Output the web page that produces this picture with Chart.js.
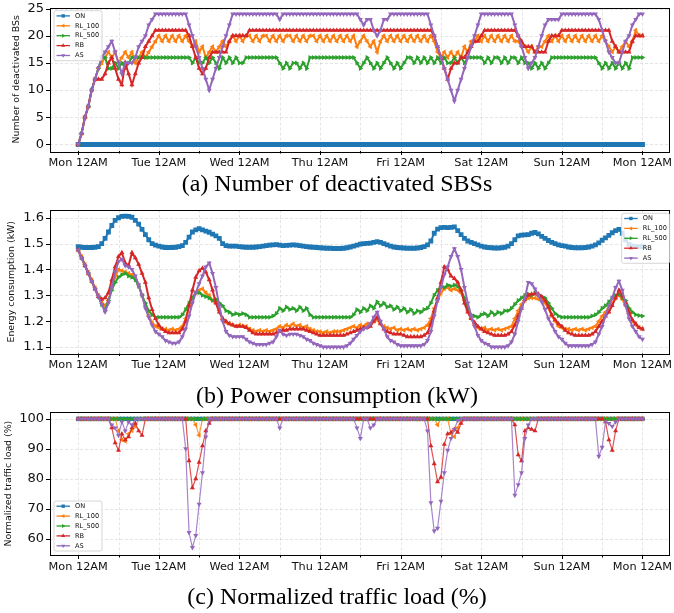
<!DOCTYPE html>
<html>
<head>
<meta charset="utf-8">
<script src="https://cdn.jsdelivr.net/npm/chart.js@4.4.1/dist/chart.umd.min.js"></script>
<style>
  html, body { margin: 0; padding: 0; background: #fff; overflow: hidden; }
  #page { position: relative; width: 674px; height: 613px; }
  canvas { position: absolute; left: 0; }
  .cap { position: absolute; left: 0; width: 674px; text-align: center; color: #000;
         font-family: "Liberation Serif", "Times New Roman", serif; font-size: 24px; line-height: 28px; }
</style>
</head>
<body>
<div id="page">
  <canvas id="deact"></canvas>
  <div class="cap" style="top:169px">(a) Number of deactivated SBSs</div>
  <canvas id="energy"></canvas>
  <div class="cap" style="top:381px">(b) Power consumption (kW)</div>
  <canvas id="load"></canvas>
  <div class="cap" style="top:582px">(c) Normalized traffic load (%)</div>
</div>
<script>
// one week, hourly samples (hour 0 = Mon 12AM)
var HOURS = Array.from({ length: 169 }, function (_, h) { return h; });
var X_TICKS = [0, 12, 24, 36, 48, 60, 72, 84, 96, 108, 120, 132, 144, 156, 168];
var DAY_LABELS = ['Mon 12AM', 'Tue 12AM', 'Wed 12AM', 'Thu 12AM', 'Fri 12AM', 'Sat 12AM', 'Sun 12AM', 'Mon 12AM'];
var NAMES = ['ON', 'RL_100', 'RL_500', 'RB', 'AS'];

// (a) number of deactivated BSs
var DEACT_TICKS = [0, 5, 10, 15, 20, 25];
var DEACT_ON = [
  0,0,0,0,0,0,0,0,0,0,0,0,0,0,0,0,0,0,0,0,0,0,0,0,
  0,0,0,0,0,0,0,0,0,0,0,0,0,0,0,0,0,0,0,0,0,0,0,0,
  0,0,0,0,0,0,0,0,0,0,0,0,0,0,0,0,0,0,0,0,0,0,0,0,
  0,0,0,0,0,0,0,0,0,0,0,0,0,0,0,0,0,0,0,0,0,0,0,0,
  0,0,0,0,0,0,0,0,0,0,0,0,0,0,0,0,0,0,0,0,0,0,0,0,
  0,0,0,0,0,0,0,0,0,0,0,0,0,0,0,0,0,0,0,0,0,0,0,0,
  0,0,0,0,0,0,0,0,0,0,0,0,0,0,0,0,0,0,0,0,0,0,0,0,
  0];
var DEACT_RL100 = [
  0,2,5,7,10,12,14,15,16,17,16,17,15,16,17,16,17,15,16,17,16,17,18,19,
  20,19,20,19,20,19,20,19,20,19,18,19,17,18,16,17,18,17,18,19,18,19,20,19,
  20,19,20,20,19,20,19,20,20,19,20,19,20,19,20,20,19,20,19,20,19,20,20,19,
  20,19,20,19,20,19,20,19,20,19,20,18,19,20,19,18,19,17,19,20,19,20,19,20,
  19,20,19,20,19,20,19,20,19,20,19,17,16,17,16,17,16,17,16,18,17,19,19,20,
  19,20,19,20,19,20,19,20,19,20,19,19,18,18,17,18,17,18,18,19,20,19,20,19,
  20,19,20,19,20,19,20,19,20,19,20,19,20,19,18,17,18,17,18,19,18,19,21,20,
  20];
var DEACT_RL500 = [
  0,2,5,7,10,12,14,16,16,14,14,15,14,15,14,15,16,16,16,16,16,16,16,16,
  16,16,16,16,16,16,16,16,16,16,15,16,15,15,16,15,16,15,14,16,15,16,15,16,
  15,15,16,16,16,16,16,16,16,16,16,16,15,14,15,14,15,15,14,15,14,16,16,16,
  16,16,16,16,16,16,16,16,16,16,16,15,14,15,16,15,14,15,14,15,16,15,14,15,
  14,15,16,16,15,16,15,16,15,16,15,16,15,16,15,15,16,15,16,15,16,16,16,16,
  16,15,16,15,16,16,15,16,15,16,16,15,16,15,15,14,15,14,15,14,15,16,16,16,
  16,16,16,16,16,16,16,16,16,16,16,15,14,15,14,15,14,15,14,15,14,16,16,16,
  16];
var DEACT_RB = [
  0,2,5,7,10,12,12,12,13,15,16,14,12,11,15,13,11,13,15,16,18,19,20,21,
  21,21,21,21,21,21,21,21,21,20,18,16,14,13,14,16,17,17,17,17,17,19,20,20,
  20,20,20,21,21,21,21,21,21,21,21,21,21,21,21,21,21,21,21,21,21,21,21,21,
  21,21,21,21,21,21,21,21,21,21,21,21,21,21,21,21,21,21,21,21,21,21,21,21,
  21,21,21,21,21,21,21,21,21,21,20,18,16,14,12,14,15,15,16,16,17,18,19,19,
  20,21,21,21,21,21,21,21,21,21,21,20,19,18,18,18,17,17,17,17,19,20,20,20,
  21,21,21,21,21,21,21,21,21,21,21,21,21,21,21,19,18,17,17,17,17,19,20,20,
  20];
var DEACT_AS = [
  0,2,5,7,10,12,14,16,17,18,19,17,15,13,15,15,15,16,18,19,20,22,23,24,
  24,24,24,24,24,24,24,24,24,22,20,18,16,14,12,10,12,14,16,18,20,22,24,24,
  24,24,24,24,24,24,24,24,24,24,24,24,23,24,24,24,24,24,24,24,24,24,24,24,
  24,24,24,24,24,24,24,24,24,24,24,24,23,22,23,23,21,20,21,23,23,24,24,24,
  24,24,24,24,24,24,24,24,24,22,20,18,16,14,12,10,8,10,12,14,16,18,20,22,
  24,24,24,24,24,24,24,24,24,24,22,20,18,16,14,15,16,18,20,22,23,23,23,23,
  24,24,24,24,24,24,24,24,24,24,24,23,21,19,17,16,15,15,17,19,20,22,23,24,
  24];

// (b) energy consumption (kW)
var ENERGY_TICKS = [1.1, 1.2, 1.3, 1.4, 1.5, 1.6];
var ENERGY_ON = [
  1.488,1.486,1.485,1.485,1.485,1.486,1.488,1.5,1.52,1.545,1.57,1.59,1.6,1.605,1.606,1.605,1.602,1.59,1.575,1.555,1.535,1.515,1.5,1.494,
  1.49,1.487,1.485,1.485,1.485,1.486,1.488,1.492,1.505,1.525,1.545,1.553,1.558,1.553,1.548,1.544,1.537,1.53,1.52,1.5,1.492,1.49,1.49,1.49,
  1.488,1.487,1.486,1.486,1.486,1.487,1.488,1.49,1.492,1.494,1.495,1.496,1.494,1.492,1.493,1.494,1.495,1.494,1.492,1.49,1.488,1.487,1.486,1.485,
  1.484,1.483,1.482,1.482,1.481,1.481,1.481,1.482,1.484,1.487,1.49,1.494,1.498,1.5,1.501,1.502,1.505,1.508,1.505,1.5,1.495,1.49,1.487,1.485,
  1.484,1.483,1.482,1.482,1.482,1.483,1.485,1.488,1.495,1.51,1.54,1.556,1.562,1.563,1.562,1.563,1.565,1.55,1.535,1.52,1.51,1.505,1.5,1.495,
  1.49,1.487,1.485,1.484,1.483,1.483,1.484,1.486,1.49,1.5,1.515,1.53,1.533,1.534,1.535,1.54,1.543,1.538,1.528,1.52,1.512,1.505,1.5,1.495,
  1.492,1.49,1.487,1.485,1.484,1.484,1.484,1.485,1.487,1.49,1.495,1.503,1.513,1.522,1.532,1.542,1.55,1.555,1.54,1.515,1.497,1.49,1.488,1.488,
  1.488];
var ENERGY_RL100 = [
  1.475,1.45,1.42,1.39,1.36,1.33,1.30,1.275,1.26,1.28,1.33,1.37,1.40,1.395,1.39,1.385,1.38,1.37,1.34,1.30,1.26,1.22,1.195,1.18,
  1.175,1.17,1.17,1.165,1.17,1.165,1.17,1.18,1.21,1.26,1.29,1.31,1.32,1.325,1.31,1.30,1.28,1.27,1.24,1.21,1.195,1.19,1.185,1.18,
  1.185,1.18,1.18,1.17,1.165,1.16,1.165,1.16,1.165,1.16,1.165,1.17,1.18,1.175,1.185,1.18,1.19,1.18,1.185,1.175,1.18,1.17,1.165,1.16,
  1.16,1.155,1.16,1.155,1.16,1.16,1.16,1.165,1.17,1.175,1.18,1.175,1.185,1.18,1.19,1.19,1.20,1.205,1.19,1.18,1.175,1.17,1.175,1.165,
  1.17,1.165,1.17,1.165,1.17,1.165,1.17,1.175,1.185,1.21,1.25,1.28,1.31,1.325,1.33,1.32,1.325,1.32,1.31,1.28,1.24,1.21,1.185,1.175,
  1.17,1.175,1.165,1.17,1.165,1.17,1.165,1.17,1.175,1.18,1.21,1.24,1.265,1.28,1.29,1.29,1.29,1.285,1.285,1.27,1.25,1.22,1.20,1.18,
  1.175,1.17,1.17,1.165,1.17,1.165,1.17,1.165,1.17,1.175,1.18,1.20,1.22,1.235,1.25,1.27,1.29,1.30,1.285,1.26,1.23,1.20,1.185,1.175,
  1.17];
var ENERGY_RL500 = [
  1.475,1.445,1.415,1.385,1.355,1.325,1.295,1.265,1.242,1.28,1.32,1.35,1.37,1.38,1.385,1.375,1.37,1.36,1.335,1.30,1.27,1.24,1.225,1.215,
  1.215,1.215,1.215,1.215,1.215,1.215,1.215,1.225,1.245,1.27,1.29,1.31,1.31,1.30,1.295,1.29,1.28,1.285,1.27,1.26,1.24,1.235,1.225,1.23,
  1.225,1.23,1.225,1.215,1.215,1.215,1.215,1.215,1.215,1.215,1.22,1.23,1.25,1.24,1.255,1.245,1.25,1.24,1.255,1.24,1.25,1.225,1.215,1.215,
  1.215,1.215,1.215,1.215,1.215,1.215,1.215,1.215,1.215,1.215,1.225,1.245,1.235,1.25,1.24,1.26,1.25,1.275,1.26,1.27,1.255,1.26,1.245,1.255,
  1.24,1.25,1.235,1.245,1.23,1.24,1.235,1.245,1.25,1.27,1.30,1.32,1.335,1.33,1.34,1.335,1.34,1.335,1.32,1.29,1.25,1.225,1.22,1.215,
  1.225,1.23,1.22,1.235,1.225,1.235,1.23,1.24,1.24,1.25,1.265,1.28,1.29,1.30,1.305,1.30,1.31,1.30,1.295,1.29,1.27,1.25,1.23,1.22,
  1.215,1.215,1.215,1.215,1.215,1.215,1.215,1.215,1.215,1.22,1.225,1.235,1.25,1.26,1.275,1.29,1.30,1.305,1.29,1.28,1.25,1.235,1.225,1.222,
  1.22];
var ENERGY_RB = [
  1.475,1.445,1.415,1.385,1.355,1.325,1.295,1.285,1.29,1.31,1.36,1.41,1.45,1.465,1.425,1.415,1.465,1.445,1.42,1.385,1.35,1.29,1.245,1.21,
  1.185,1.17,1.16,1.155,1.155,1.155,1.155,1.17,1.20,1.26,1.32,1.37,1.395,1.405,1.39,1.36,1.32,1.27,1.235,1.21,1.20,1.19,1.185,1.18,
  1.18,1.18,1.175,1.165,1.155,1.15,1.15,1.15,1.15,1.15,1.15,1.155,1.16,1.165,1.165,1.17,1.17,1.17,1.17,1.17,1.165,1.16,1.155,1.15,
  1.145,1.145,1.145,1.145,1.145,1.145,1.145,1.145,1.15,1.155,1.16,1.165,1.17,1.175,1.175,1.18,1.20,1.215,1.19,1.17,1.16,1.155,1.15,1.15,
  1.15,1.145,1.14,1.14,1.14,1.14,1.14,1.145,1.155,1.19,1.24,1.29,1.35,1.41,1.40,1.375,1.365,1.35,1.32,1.27,1.235,1.21,1.195,1.18,
  1.17,1.16,1.155,1.15,1.145,1.145,1.145,1.145,1.15,1.16,1.185,1.22,1.25,1.285,1.30,1.305,1.305,1.305,1.295,1.28,1.255,1.225,1.205,1.19,
  1.18,1.165,1.155,1.15,1.145,1.145,1.145,1.145,1.145,1.15,1.16,1.18,1.20,1.22,1.235,1.26,1.29,1.32,1.30,1.27,1.235,1.205,1.19,1.175,
  1.17];
var ENERGY_AS = [
  1.475,1.445,1.415,1.385,1.355,1.325,1.295,1.265,1.236,1.27,1.33,1.39,1.43,1.44,1.415,1.41,1.40,1.375,1.34,1.30,1.25,1.215,1.185,1.16,
  1.15,1.14,1.125,1.12,1.115,1.115,1.12,1.14,1.17,1.22,1.27,1.31,1.345,1.375,1.41,1.425,1.385,1.33,1.26,1.20,1.16,1.145,1.14,1.14,
  1.14,1.14,1.13,1.12,1.115,1.11,1.11,1.11,1.11,1.115,1.12,1.14,1.165,1.15,1.145,1.15,1.15,1.15,1.145,1.14,1.13,1.125,1.115,1.11,
  1.105,1.10,1.10,1.10,1.10,1.10,1.10,1.10,1.105,1.115,1.13,1.145,1.16,1.17,1.175,1.19,1.215,1.235,1.20,1.17,1.14,1.125,1.12,1.11,
  1.105,1.105,1.105,1.105,1.105,1.105,1.105,1.11,1.125,1.16,1.22,1.28,1.33,1.38,1.41,1.45,1.48,1.45,1.40,1.33,1.27,1.22,1.18,1.145,
  1.125,1.115,1.11,1.10,1.10,1.10,1.10,1.10,1.105,1.12,1.15,1.20,1.25,1.29,1.35,1.345,1.325,1.30,1.275,1.245,1.21,1.185,1.16,1.14,
  1.13,1.115,1.105,1.105,1.105,1.105,1.105,1.105,1.105,1.11,1.12,1.15,1.18,1.22,1.26,1.29,1.33,1.355,1.32,1.26,1.21,1.18,1.16,1.14,
  1.13];

// (c) normalized traffic load (%)
var LOAD_TICKS = [60, 70, 80, 90, 100];
var LOAD_ON = [
  100,100,100,100,100,100,100,100,100,100,100,100,100,100,100,100,100,100,100,100,100,100,100,100,
  100,100,100,100,100,100,100,100,100,100,100,100,100,100,100,100,100,100,100,100,100,100,100,100,
  100,100,100,100,100,100,100,100,100,100,100,100,100,100,100,100,100,100,100,100,100,100,100,100,
  100,100,100,100,100,100,100,100,100,100,100,100,100,100,100,100,100,100,100,100,100,100,100,100,
  100,100,100,100,100,100,100,100,100,100,100,100,100,100,100,100,100,100,100,100,100,100,100,100,
  100,100,100,100,100,100,100,100,100,100,100,100,100,100,100,100,100,100,100,100,100,100,100,100,
  100,100,100,100,100,100,100,100,100,100,100,100,100,100,100,100,100,100,100,100,100,100,100,100,
  100];
var LOAD_RL100 = [
  100,100,100,100,100,100,100,100,100,100,100,100,96,93,92.5,95,96,97.5,100,100,100,100,100,100,
  100,100,100,100,100,100,100,100,100,100,100,98,94.5,100,100,100,100,100,100,100,100,100,100,100,
  100,100,100,100,100,100,100,100,100,100,100,100,100,100,100,100,100,100,100,100,100,100,100,100,
  100,100,100,100,100,100,100,100,100,100,100,100,100,100,100,100,100,100,100,100,100,100,100,100,
  100,100,100,100,100,100,100,100,100,100,100,98,100,100,100,95,94,97,100,100,100,100,100,100,
  100,100,100,100,100,100,100,100,100,100,100,100,100,100,100,100,100,100,100,100,100,100,100,100,
  100,100,100,100,100,100,100,100,100,100,100,100,100,100,100,100,100,100,100,100,100,100,100,100,
  100];
var LOAD_RL500 = [
  100,100,100,100,100,100,100,100,100,100,100,100,100,100,100,100,100,100,100,100,100,100,100,100,
  100,100,100,100,100,100,100,100,100,100,100,100,100,100,100,100,100,100,100,100,100,100,100,100,
  100,100,100,100,100,100,100,100,100,100,100,100,100,100,100,100,100,100,100,100,100,100,100,100,
  100,100,100,100,100,100,100,100,100,100,100,100,100,100,100,100,100,100,100,100,100,100,100,100,
  100,100,100,100,100,100,100,100,100,100,100,100,100,100,100,100,100,100,100,100,100,100,100,100,
  100,100,100,100,100,100,100,100,100,100,100,100,100,100,100,100,100,100,100,100,100,100,100,100,
  100,100,100,100,100,100,100,100,100,100,100,100,100,100,100,100,100,100,100,100,100,100,100,100,
  100];
var LOAD_RB = [
  100,100,100,100,100,100,100,100,100,100,97,92,89.5,95,93,94,97,98.5,96,94.5,100,100,100,100,
  100,100,100,100,100,100,100,100,100,86,77,80,85.5,91,96,98.5,100,100,100,100,100,100,100,100,
  100,100,100,100,100,100,100,100,100,100,100,100,100,100,100,100,100,100,100,100,100,100,100,100,
  100,100,100,100,100,100,100,100,100,100,100,100,100,100,100,100,100,100,100,100,100,100,100,100,
  100,100,100,100,100,100,100,100,100,91,85,79,80.5,91.5,95,95.5,96.5,95.5,98.5,100,100,100,100,100,
  100,100,100,100,100,100,100,100,100,100,98,88,86,96,97,96.5,96,100,100,100,100,100,100,100,
  100,100,100,100,100,100,100,100,100,100,100,100,100,99,93,89.5,96,100,100,100,100,100,100,100,
  100];
var LOAD_AS = [
  100,100,100,100,100,100,100,100,100,100,98,97,94.5,99,96,99,98,100,100,100,100,100,100,100,
  100,100,100,100,100,100,100,100,90,62,57,61,71.5,82,94,100,100,100,100,100,100,100,100,100,
  100,100,100,100,100,100,100,100,100,100,100,100,97,100,100,100,100,100,100,100,100,100,100,100,
  100,100,100,100,100,100,100,100,100,100,100,97,93.5,100,100,97,98,100,100,100,100,100,100,100,
  100,100,100,100,100,100,100,100,96,72,62.5,63.5,72.5,82,89.5,93.5,96.5,99.5,100,100,100,100,100,100,
  100,100,100,100,100,100,100,100,100,100,74.5,78,82,93.5,98,100,100,100,100,100,100,100,100,100,
  100,100,100,100,100,100,100,100,100,100,100,87.5,90.5,99,98.5,97.5,99,100,100,100,100,100,100,100,
  100];

var COLORS = ['#1f77b4', '#ff7f0e', '#2ca02c', '#d62728', '#9467bd'];
var MARKERS = [['rect', 0], ['triangle', -90], ['triangle', 90], ['triangle', 0], ['triangle', 180]];
var X_MIN = -8.4, X_MAX = 176.2;
var GRID_COLOR = 'rgba(0,0,0,0.13)';

[DEACT_ON, DEACT_RL100, DEACT_RL500, DEACT_RB, DEACT_AS, ENERGY_ON, ENERGY_RL100, ENERGY_RL500,
 ENERGY_RB, ENERGY_AS, LOAD_ON, LOAD_RL100, LOAD_RL500, LOAD_RB, LOAD_AS].forEach(function (a, i) {
  if (a.length !== HOURS.length) console.error('series ' + i + ' has ' + a.length + ' values');
});

function drawMarker(ctx, kind, rot, x, y, r) {
  ctx.beginPath();
  if (kind === 'rect') {
    var s = r * Math.SQRT1_2;
    ctx.rect(x - s, y - s, 2 * s, 2 * s);
  } else {
    var a0 = rot * Math.PI / 180;
    for (var k = 0; k < 3; k++) {
      var a = a0 + k * 2 * Math.PI / 3;
      var px = x + Math.sin(a) * r, py = y - Math.cos(a) * r;
      if (k) ctx.lineTo(px, py); else ctx.moveTo(px, py);
    }
    ctx.closePath();
  }
  ctx.fill();
}

// dashed grid, black frame, outward ticks and a matplotlib-like legend box
var framePlugin = {
  id: 'frame',
  beforeDatasetsDraw: function (chart) {
    var ctx = chart.ctx, a = chart.chartArea, x = chart.scales.x, y = chart.scales.y;
    ctx.save();
    ctx.strokeStyle = GRID_COLOR;
    ctx.lineWidth = 0.8;
    ctx.setLineDash([3, 2]);
    ctx.beginPath();
    x.ticks.forEach(function (t) {
      var px = Math.round(x.getPixelForValue(t.value)) + 0.5;
      ctx.moveTo(px, a.top); ctx.lineTo(px, a.bottom);
    });
    y.ticks.forEach(function (t) {
      var py = Math.round(y.getPixelForValue(t.value)) + 0.5;
      ctx.moveTo(a.left, py); ctx.lineTo(a.right, py);
    });
    ctx.stroke();
    ctx.restore();
  },
  afterDraw: function (chart, args, opts) {
    var ctx = chart.ctx, a = chart.chartArea, x = chart.scales.x, y = chart.scales.y;
    ctx.save();
    ctx.strokeStyle = '#000';
    ctx.lineWidth = 1;
    ctx.strokeRect(Math.round(a.left) + 0.5, Math.round(a.top) + 0.5,
                   Math.round(a.right - a.left) - 1, Math.round(a.bottom - a.top));
    ctx.beginPath();
    x.ticks.forEach(function (t) {
      var px = Math.round(x.getPixelForValue(t.value)) + 0.5;
      var len = t.value % 24 === 0 ? 4 : 2.5;
      ctx.moveTo(px, a.bottom); ctx.lineTo(px, a.bottom + len);
    });
    y.ticks.forEach(function (t) {
      var py = Math.round(y.getPixelForValue(t.value)) + 0.5;
      ctx.moveTo(a.left - 4, py); ctx.lineTo(a.left, py);
    });
    ctx.stroke();

    // legend
    var lx = opts.x, ly = opts.y, w = 48, h = 50;
    ctx.fillStyle = 'rgba(255,255,255,0.8)';
    ctx.strokeStyle = '#cccccc';
    ctx.lineWidth = 0.8;
    ctx.beginPath();
    ctx.roundRect(lx, ly, w, h, 2);
    ctx.fill();
    ctx.stroke();
    ctx.font = '6.6px "DejaVu Sans"';
    ctx.textBaseline = 'middle';
    NAMES.forEach(function (name, i) {
      var ry = ly + 5.2 + i * 9.9;
      ctx.strokeStyle = COLORS[i];
      ctx.lineWidth = 1.3;
      ctx.beginPath();
      ctx.moveTo(lx + 2.5, ry); ctx.lineTo(lx + 16, ry);
      ctx.stroke();
      ctx.fillStyle = COLORS[i];
      drawMarker(ctx, MARKERS[i][0], MARKERS[i][1], lx + 9.2, ry, i === 0 ? 2.4 : 2.3);
      ctx.fillStyle = '#111';
      ctx.fillText(name, lx + 21, ry);
    });
    ctx.restore();
  }
};

function makePanel(cfg) {
  var canvas = document.getElementById(cfg.id);
  var plotH = cfg.plotBottom - cfg.top;
  var height = Math.ceil(plotH + 22);
  canvas.width = 674;
  canvas.height = height;
  canvas.style.top = cfg.top + 'px';

  var datasets = cfg.series.map(function (values, i) {
    return {
      label: NAMES[i],
      data: values,
      order: 5 - i,
      borderColor: COLORS[i] + (cfg.lineAlpha || ''),
      backgroundColor: COLORS[i],
      pointBackgroundColor: COLORS[i],
      pointBorderColor: COLORS[i],
      pointBorderWidth: 0,
      borderWidth: cfg.lineWidth,
      pointStyle: MARKERS[i][0],
      pointRotation: MARKERS[i][1],
      pointRadius: i === 0 ? cfg.squareR : 2.9,
      tension: 0,
      fill: false
    };
  });

  new Chart(canvas, {
    type: 'line',
    data: { labels: HOURS, datasets: datasets },
    options: {
      responsive: false,
      animation: false,
      events: [],
      layout: { padding: { top: cfg.plotTop - cfg.top, left: 0, right: 1, bottom: 0 } },
      plugins: {
        legend: { display: false },
        tooltip: { enabled: false },
        frame: { x: cfg.legend[0], y: cfg.legend[1] - cfg.top }
      },
      scales: {
        x: {
          type: 'linear',
          min: X_MIN,
          max: X_MAX,
          afterBuildTicks: function (s) { s.ticks = X_TICKS.map(function (v) { return { value: v }; }); },
          afterFit: function (s) { s.height = height - plotH; s.paddingLeft = 0; s.paddingRight = 0; },
          grid: { display: false, drawTicks: false },
          border: { display: false },
          ticks: {
            autoSkip: false, maxRotation: 0, minRotation: 0, padding: 5, color: '#111',
            font: { family: 'DejaVu Sans', size: 11.3 },
            callback: function (v) { return v % 24 === 0 ? DAY_LABELS[v / 24] : ''; }
          }
        },
        y: {
          min: cfg.yMin,
          max: cfg.yMax,
          afterBuildTicks: function (s) { s.ticks = cfg.yTicks.map(function (v) { return { value: v }; }); },
          afterFit: function (s) { s.width = 50; s.paddingTop = 0; s.paddingBottom = 0; },
          grid: { display: false, drawTicks: false },
          border: { display: false },
          title: {
            display: true, text: cfg.yTitle, color: '#111',
            font: { family: 'DejaVu Sans', size: 9.4 },
            padding: { top: cfg.titlePad, bottom: 0 }
          },
          ticks: {
            padding: 6, color: '#111',
            font: { family: 'DejaVu Sans', size: 13 },
            callback: cfg.fmt
          }
        }
      }
    },
    plugins: [framePlugin]
  });
}

makePanel({
  id: 'deact', top: 0, plotTop: 7.5, plotBottom: 151,
  series: [DEACT_ON, DEACT_RL100, DEACT_RL500, DEACT_RB, DEACT_AS],
  yMin: -1.2, yMax: 25.2, yTicks: DEACT_TICKS, fmt: function (v) { return String(v); },
  yTitle: 'Number of deactivated BSs', titlePad: 11.4, legend: [54, 10.7], lineWidth: 2, squareR: 3.5
});
makePanel({
  id: 'energy', top: 200, plotTop: 210, plotBottom: 353.5,
  series: [ENERGY_ON, ENERGY_RL100, ENERGY_RL500, ENERGY_RB, ENERGY_AS],
  yMin: 1.075, yMax: 1.63, yTicks: ENERGY_TICKS, fmt: function (v) { return v.toFixed(1); },
  yTitle: 'Energy consumption (kW)', titlePad: 6.4, legend: [621.7, 213.3], lineWidth: 2, squareR: 3.4
});
makePanel({
  id: 'load', top: 404, plotTop: 412.3, plotBottom: 555,
  series: [LOAD_ON, LOAD_RL100, LOAD_RL500, LOAD_RB, LOAD_AS],
  yMin: 54.5, yMax: 102.2, yTicks: LOAD_TICKS, fmt: function (v) { return String(v); },
  yTitle: 'Normalized traffic load (%)', titlePad: 3.4, legend: [54, 501], lineWidth: 1.2, lineAlpha: 'cc', squareR: 3
});
</script>
</body>
</html>
